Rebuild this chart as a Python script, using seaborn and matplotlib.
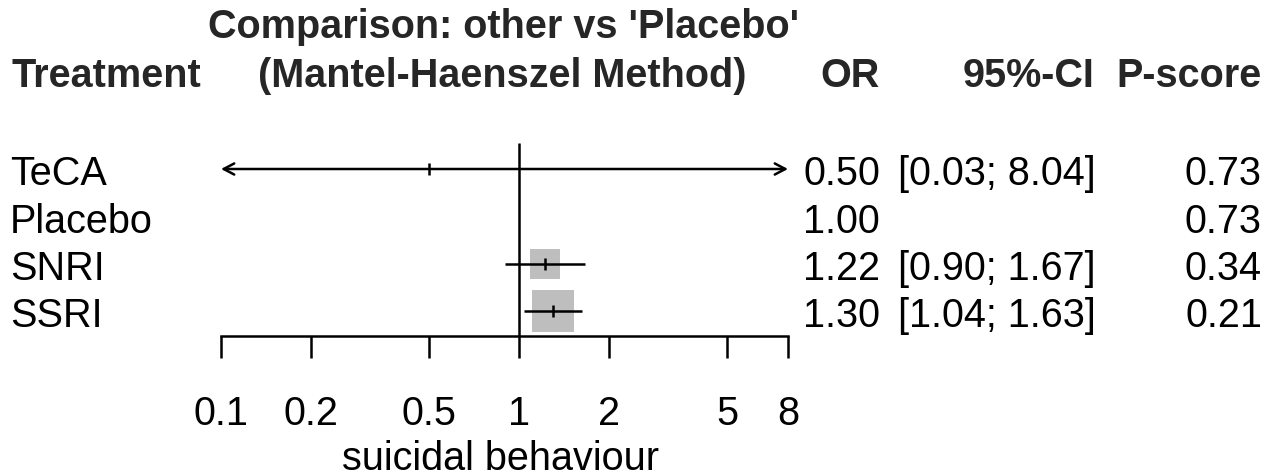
import numpy as np
import pandas as pd
import matplotlib
matplotlib.use("Agg")
import matplotlib.pyplot as plt
from matplotlib import transforms
from matplotlib.ticker import NullLocator
import seaborn as sns

# ---------------- data ----------------
treatments = ["TeCA", "Placebo", "SNRI", "SSRI"]
odds_ratio = [0.50, 1.00, 1.22, 1.30]
ci_lower = [0.03, np.nan, 0.90, 1.04]
ci_upper = [8.04, np.nan, 1.67, 1.63]
p_score = [0.73, 0.73, 0.34, 0.21]
weight = [0.0, 0.0, 0.338, 0.662]

x_ticks = [0.1, 0.2, 0.5, 1, 2, 5, 8]
x_tick_labels = ["0.1", "0.2", "0.5", "1", "2", "5", "8"]
x_label = "suicidal behaviour"
title_line1 = "Comparison: other vs 'Placebo'"
title_line2 = "(Mantel-Haenszel Method)"
col_treat, col_or, col_ci, col_p = "Treatment", "OR", "95%-CI", "P-score"

df = pd.DataFrame({"treatment": treatments, "OR": odds_ratio, "lower": ci_lower,
                   "upper": ci_upper, "pscore": p_score, "weight": weight})
df["row"] = np.arange(len(df))

# ---------------- style ----------------
sns.set_theme(style="white")
plt.rcParams["font.family"] = ["Liberation Sans", "DejaVu Sans"]
FS = 28.5
LW = 1.8
W, H = 1273, 477

fig = plt.figure(figsize=(W / 100, H / 100), dpi=100)
tax = fig.add_axes([0, 0, 1, 1])
tax.set_xlim(0, W)
tax.set_ylim(H, 0)
tax.axis("off")

# main forest axis (pixel layout)
x0, x1 = 221, 788
ytop, ybot = 130, 337
row0, dy = 170.0, 47.3
ax = fig.add_axes([x0 / W, (H - ybot) / H, (x1 - x0) / W, (ybot - ytop) / H])
ax.patch.set_alpha(0)
ax.set_xscale("log")
XMIN, XMAX = 0.1, 8
ax.set_xlim(XMIN, XMAX)
ax.set_ylim((ybot - row0) / dy, (ytop - row0) / dy)

# reference line at 1
ax.vlines(1, (ybot - row0) / dy, (144 - row0) / dy, color="black", lw=LW,
          clip_on=False, zorder=1)

# weight squares
sq = df[df["weight"] > 0]
side_pt = 42 * 0.72 * np.sqrt(sq["weight"].to_numpy() / df["weight"].max())
sns.scatterplot(data=sq, x="OR", y="row", marker="s", s=side_pt ** 2,
                color="#BEBEBE", edgecolor="none", linewidth=0, ax=ax,
                legend=False, zorder=2)

# confidence intervals
ci = df.dropna(subset=["lower", "upper"])
for _, r in ci.iterrows():
    lo, hi = max(r["lower"], XMIN), min(r["upper"], XMAX)
    left_arrow, right_arrow = r["lower"] < XMIN, r["upper"] > XMAX
    if left_arrow or right_arrow:
        style = ("<" if left_arrow else "") + "-" + (">" if right_arrow else "")
        ax.annotate("", xy=(hi, r["row"]), xytext=(lo, r["row"]),
                    arrowprops=dict(arrowstyle=style + ",head_length=0.38,head_width=0.2",
                                    lw=LW, color="black", shrinkA=0, shrinkB=0,
                                    mutation_scale=20),
                    annotation_clip=False, zorder=3)
    else:
        ax.hlines(r["row"], lo, hi, color="black", lw=LW, zorder=3)
ax.scatter(ci["OR"], ci["row"], marker="|", s=(12.5 * 0.72) ** 2, color="black",
           linewidths=LW, zorder=4)

# axis styling
ax.set_xticks(x_ticks, x_tick_labels)
ax.xaxis.set_minor_locator(NullLocator())
ax.set_yticks([])
ax.tick_params(axis="x", direction="out", length=22 * 0.72, width=LW, pad=26,
               labelsize=FS, bottom=True, colors="black")
sns.despine(ax=ax, left=True)
ax.spines["bottom"].set_color("black")
ax.spines["bottom"].set_linewidth(LW)
ax.set_ylabel("")
ax.set_xlabel(x_label, fontsize=FS, color="black")
ax.xaxis.set_label_coords(501, 470, transform=tax.transData)
ax.xaxis.label.set_verticalalignment("baseline")

# header text
tax.text(504, 37.5, title_line1, ha="center", va="baseline", fontsize=FS, fontweight="bold")
tax.text(502, 87.3, title_line2, ha="center", va="baseline", fontsize=FS, fontweight="bold")
tax.text(11, 87.3, col_treat, ha="left", va="baseline", fontsize=FS, fontweight="bold")
tax.text(880, 87.3, col_or, ha="right", va="baseline", fontsize=FS, fontweight="bold")
tax.text(1095, 87.3, col_ci, ha="right", va="baseline", fontsize=FS, fontweight="bold")
tax.text(1262, 87.3, col_p, ha="right", va="baseline", fontsize=FS, fontweight="bold")

# row text columns
rowtrans = transforms.offset_copy(
    transforms.blended_transform_factory(tax.transData, ax.transData),
    fig=fig, x=0, y=-15.3, units="dots")
for _, r in df.iterrows():
    kw = dict(va="baseline", fontsize=FS, transform=rowtrans, color="black")
    tax.text(10, r["row"], r["treatment"], ha="left", **kw)
    tax.text(880, r["row"], f"{r['OR']:.2f}", ha="right", **kw)
    if not np.isnan(r["lower"]):
        tax.text(1096, r["row"], f"[{r['lower']:.2f}; {r['upper']:.2f}]", ha="right", **kw)
    tax.text(1262, r["row"], f"{r['pscore']:.2f}", ha="right", **kw)

fig.savefig("out.png", dpi=100)
